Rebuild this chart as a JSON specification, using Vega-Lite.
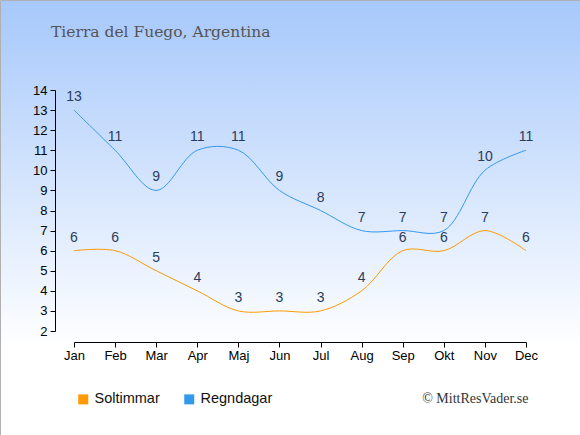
{
  "$schema": "https://vega.github.io/schema/vega-lite/v6.json",
  "width": 580,
  "height": 435,
  "padding": 0,
  "autosize": {"type": "none"},
  "background": "white",
  "view": {
    "stroke": "#b0b0b0",
    "strokeWidth": 1,
    "fill": {
      "gradient": "linear",
      "x1": 0, "y1": 0, "x2": 0, "y2": 1,
      "stops": [
        {"offset": 0, "color": "#a6c8fb"},
        {"offset": 0.8, "color": "#ffffff"},
        {"offset": 1, "color": "#ffffff"}
      ]
    }
  },
  "title": {
    "text": "Tierra del Fuego, Argentina",
    "anchor": "start",
    "frame": "group",
    "orient": "top",
    "offset": 0,
    "dx": 51,
    "dy": 52,
    "baseline": "alphabetic",
    "font": "DejaVu Serif",
    "fontSize": 15.5,
    "fontWeight": "normal",
    "color": "#555555"
  },
  "data": {
    "values": [
      {"month": "Jan", "series": "Soltimmar", "value": 6},
      {"month": "Feb", "series": "Soltimmar", "value": 6},
      {"month": "Mar", "series": "Soltimmar", "value": 5},
      {"month": "Apr", "series": "Soltimmar", "value": 4},
      {"month": "Maj", "series": "Soltimmar", "value": 3},
      {"month": "Jun", "series": "Soltimmar", "value": 3},
      {"month": "Jul", "series": "Soltimmar", "value": 3},
      {"month": "Aug", "series": "Soltimmar", "value": 4},
      {"month": "Sep", "series": "Soltimmar", "value": 6},
      {"month": "Okt", "series": "Soltimmar", "value": 6},
      {"month": "Nov", "series": "Soltimmar", "value": 7},
      {"month": "Dec", "series": "Soltimmar", "value": 6},
      {"month": "Jan", "series": "Regndagar", "value": 13},
      {"month": "Feb", "series": "Regndagar", "value": 11},
      {"month": "Mar", "series": "Regndagar", "value": 9},
      {"month": "Apr", "series": "Regndagar", "value": 11},
      {"month": "Maj", "series": "Regndagar", "value": 11},
      {"month": "Jun", "series": "Regndagar", "value": 9},
      {"month": "Jul", "series": "Regndagar", "value": 8},
      {"month": "Aug", "series": "Regndagar", "value": 7},
      {"month": "Sep", "series": "Regndagar", "value": 7},
      {"month": "Okt", "series": "Regndagar", "value": 7},
      {"month": "Nov", "series": "Regndagar", "value": 10},
      {"month": "Dec", "series": "Regndagar", "value": 11}
    ]
  },
  "encoding": {
    "x": {
      "field": "month",
      "type": "ordinal",
      "sort": null,
      "scale": {"type": "point", "range": [74, 526], "padding": 0},
      "axis": {
        "orient": "bottom",
        "offset": -93,
        "labelAngle": 0,
        "labelFont": "Liberation Sans",
        "labelFontSize": 13,
        "labelColor": "#000000",
        "labelPadding": 2,
        "tickSize": 5,
        "tickColor": "#000000",
        "domainColor": "#000000",
        "grid": false,
        "title": "© MittResVader.se",
        "titleFont": "Liberation Serif",
        "titleFontSize": 14,
        "titleFontWeight": "normal",
        "titleColor": "#333333",
        "titleAlign": "right",
        "titleBaseline": "alphabetic",
        "titleX": 528,
        "titleY": 60
      }
    },
    "y": {
      "field": "value",
      "type": "quantitative",
      "scale": {"domain": [2, 14], "range": [331, 90], "nice": false, "zero": false},
      "axis": {
        "orient": "left",
        "offset": -55,
        "values": [2, 3, 4, 5, 6, 7, 8, 9, 10, 11, 12, 13, 14],
        "labelFont": "Liberation Sans",
        "labelFontSize": 13,
        "labelColor": "#000000",
        "labelPadding": 3,
        "tickSize": 5,
        "tickColor": "#000000",
        "domainColor": "#000000",
        "grid": false,
        "title": null
      }
    }
  },
  "layer": [
    {
      "mark": {"type": "line", "interpolate": "catmull-rom", "strokeWidth": 1},
      "encoding": {
        "color": {
          "field": "series",
          "type": "nominal",
          "sort": null,
          "scale": {"domain": ["Soltimmar", "Regndagar"], "range": ["#ff9900", "#3399ee"]},
          "legend": {
            "title": null,
            "orient": "none",
            "legendX": 76,
            "legendY": 392,
            "direction": "horizontal",
            "padding": 0,
            "symbolType": "square",
            "symbolSize": 100,
            "symbolStrokeWidth": 0,
            "labelFont": "Liberation Sans",
            "labelFontSize": 14.5,
            "labelColor": "#111111",
            "labelOffset": 4,
            "columnPadding": 22,
            "encode": {
              "symbols": {"update": {"fill": {"scale": "color", "field": "value"}, "fillOpacity": {"value": 1}}}
            }
          }
        }
      }
    },
    {
      "mark": {
        "type": "text",
        "dy": -9,
        "baseline": "alphabetic",
        "font": "Liberation Sans",
        "fontSize": 14,
        "color": "#2b3c5c"
      },
      "encoding": {
        "text": {"field": "value", "type": "quantitative"}
      }
    }
  ]
}
